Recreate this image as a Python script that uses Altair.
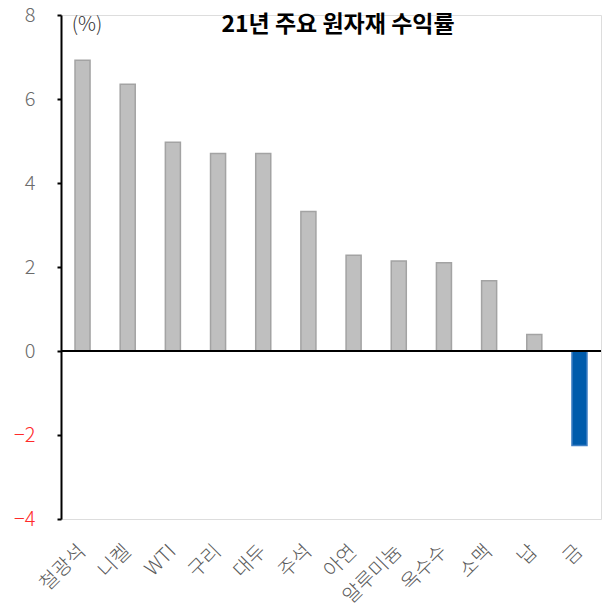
import altair as alt
import pandas as pd

# 2021 commodity returns (%)
commodities = ["철광석", "니켈", "WTI", "구리", "대두", "주석", "아연",
               "알루미늄", "옥수수", "소맥", "납", "금"]
returns = [6.92, 6.35, 4.97, 4.70, 4.70, 3.32, 2.28, 2.14, 2.10, 1.67, 0.39, -2.25]
y_ticks = [-4, -2, 0, 2, 4, 6, 8]

df = pd.DataFrame({"item": commodities, "ret": returns})

FONT = "Noto Sans CJK KR"

x_enc = alt.X(
    "item:N",
    sort=commodities,
    scale=alt.Scale(paddingInner=0.667, paddingOuter=0.31),
    axis=alt.Axis(
        title=None, domain=False, ticks=False, labelAngle=315,
        labelAlign="right", labelBaseline="middle", labelPadding=29,
        labelFontSize=20, labelFontWeight=300, labelColor="#5a5a5a", labelFont=FONT,
    ),
)
y_enc = alt.Y(
    "ret:Q",
    scale=alt.Scale(domain=[-4, 8], nice=False, zero=False),
    axis=alt.Axis(
        title=None, values=y_ticks, grid=False,
        domainColor="black", domainWidth=2,
        tickColor="black", tickWidth=2, tickSize=4,
        labelPadding=22, labelFontSize=20, labelFontWeight=300, labelFont=FONT,
        labelColor=alt.condition("datum.value < 0", alt.value("#ff2a2a"), alt.value("#6b6b6b")),
    ),
)

bars = alt.Chart(df).mark_bar(strokeWidth=1.5).encode(
    x=x_enc,
    y=y_enc,
    fill=alt.condition("datum.ret < 0", alt.value("#005bab"), alt.value("#bfbfbf")),
    stroke=alt.condition("datum.ret < 0", alt.value("#3f7fc4"), alt.value("#a3a3a3")),
)

zero_line = alt.Chart(pd.DataFrame({"v": [0]})).mark_rule(
    color="black", strokeWidth=2
).encode(y="v:Q")

title = alt.Chart(pd.DataFrame({"t": ["21년 주요 원자재 수익률"]})).mark_text(
    font=FONT, fontSize=23, fontWeight="bold", color="black",
    align="center", baseline="middle",
).encode(text="t:N", x=alt.value(277), y=alt.value(10))

unit = alt.Chart(pd.DataFrame({"t": ["(%)"]})).mark_text(
    font=FONT, fontSize=20, fontWeight=300, color="#333333",
    align="center", baseline="middle",
).encode(text="t:N", x=alt.value(26), y=alt.value(10))

chart = alt.layer(bars, zero_line, title, unit).properties(
    width=540, height=504,
    autosize=alt.AutoSizeParams(type="none"),
    padding={"left": 61, "top": 15, "right": 4, "bottom": 95},
).configure_view(stroke=None).configure(background="white")

chart.save("out.html", embed_options={"renderer": "svg", "actions": False})
